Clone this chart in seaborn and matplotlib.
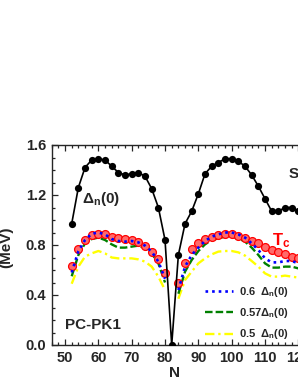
import matplotlib
matplotlib.use("Agg")
import numpy as np
import pandas as pd
import seaborn as sns
import matplotlib.pyplot as plt
from matplotlib.ticker import MultipleLocator
from matplotlib.lines import Line2D

# ---- data ----
N_all = [52, 54, 56, 58, 60, 62, 64, 66, 68, 70, 72, 74, 76, 78, 80, 82,
         84, 86, 88, 90, 92, 94, 96, 98, 100, 102, 104, 106, 108, 110,
         112, 114, 116, 118, 120]
delta0 = [0.97, 1.26, 1.42, 1.48, 1.49, 1.48, 1.43, 1.38, 1.36, 1.37, 1.38,
          1.35, 1.25, 1.10, 0.84, 0.00,
          0.72, 0.97, 1.07, 1.21, 1.37, 1.43, 1.46, 1.49, 1.49, 1.47, 1.43,
          1.36, 1.27, 1.17, 1.07, 1.07, 1.10, 1.10, 1.07]

N_tc = [52, 54, 56, 58, 60, 62, 64, 66, 68, 70, 72, 74, 76, 78, 80,
        84, 86, 88, 90, 92, 94, 96, 98, 100, 102, 104, 106, 108, 110,
        112, 114, 116, 118, 120]
tc = [0.63, 0.77, 0.84, 0.88, 0.89, 0.885, 0.867, 0.853, 0.848, 0.84, 0.827,
      0.795, 0.747, 0.69, 0.573,
      0.50, 0.66, 0.765, 0.813, 0.848, 0.867, 0.88, 0.888, 0.885, 0.875,
      0.859, 0.835, 0.82, 0.785, 0.762, 0.745, 0.725, 0.707, 0.693]
tc_06 = [0.58, 0.75, 0.84, 0.89, 0.90, 0.885, 0.848, 0.832, 0.827, 0.832,
         0.821, 0.795, 0.747, 0.667, 0.53,
         0.44, 0.627, 0.72, 0.779, 0.832, 0.867, 0.885, 0.90, 0.90, 0.885,
         0.859, 0.813, 0.76, 0.693, 0.661, 0.661, 0.672, 0.672, 0.653]
tc_057 = [0.55, 0.72, 0.813, 0.848, 0.859, 0.84, 0.805, 0.779, 0.779, 0.787,
          0.795, 0.773, 0.733, 0.653, 0.50,
          0.41, 0.587, 0.68, 0.752, 0.805, 0.84, 0.853, 0.867, 0.867, 0.853,
          0.827, 0.779, 0.72, 0.653, 0.619, 0.619, 0.627, 0.627, 0.613]
tc_05 = [0.49, 0.627, 0.707, 0.733, 0.752, 0.733, 0.70, 0.693, 0.693, 0.693,
         0.685, 0.667, 0.627, 0.547, 0.44,
         0.37, 0.52, 0.587, 0.653, 0.693, 0.725, 0.747, 0.752, 0.752, 0.741,
         0.715, 0.672, 0.627, 0.573, 0.547, 0.547, 0.555, 0.547, 0.539]

x_ticks = [50, 60, 70, 80, 90, 100, 110, 120]
y_ticks = [0.0, 0.4, 0.8, 1.2, 1.6]
legend_labels = ["0.6  \u0394$_n$(0)", "0.57\u0394$_n$(0)", "0.5  \u0394$_n$(0)"]

# ---- style ----
sns.set_style("ticks")
plt.rcParams["font.family"] = ["Liberation Sans", "DejaVu Sans"]
plt.rcParams["font.weight"] = "bold"
plt.rcParams["mathtext.fontset"] = "custom"
plt.rcParams["mathtext.rm"] = "Liberation Sans:bold"
plt.rcParams["mathtext.it"] = "Liberation Sans:bold"
plt.rcParams["mathtext.bf"] = "Liberation Sans:bold"
plt.rcParams["mathtext.default"] = "bf"

W, H = 298, 385
fig = plt.figure(figsize=(W / 100, H / 100), dpi=100)
ax = fig.add_axes([51.7 / W, 40 / H, 250 / W, 200 / H])

df_tc = pd.DataFrame({
    "N": N_tc, "tc": tc, "b": tc_06, "g": tc_057, "y": tc_05,
    "branch": ["L" if n < 82 else "R" for n in N_tc],
})
df_d = pd.DataFrame({"N": N_all, "d": delta0})

yellow_ls = (0, (4, 1.6, 1, 1.6))
green_ls = (0, (3.2, 1.3))
blue_ls = (0, (1, 1.5))

sns.lineplot(data=df_tc, x="N", y="y", units="branch", estimator=None,
             color="#ffff00", lw=1.7, linestyle=yellow_ls, ax=ax, zorder=2)
sns.lineplot(data=df_tc, x="N", y="g", units="branch", estimator=None,
             color="#008000", lw=1.7, linestyle=green_ls, ax=ax, zorder=3)
sns.scatterplot(data=df_tc, x="N", y="tc", s=32, color="#ff6a6a",
                edgecolor="#ff0000", linewidth=0.9, ax=ax, zorder=4)
sns.lineplot(data=df_tc, x="N", y="b", units="branch", estimator=None,
             color="#0000ff", lw=1.9, linestyle=blue_ls, ax=ax, zorder=5)
sns.lineplot(data=df_d, x="N", y="d", color="black", lw=1.2, marker="o",
             markersize=5.2, markeredgewidth=0, ax=ax, zorder=6)

ax.set_xlim(46, 121)
ax.set_ylim(0, 1.6)
ax.set_xticks(x_ticks)
ax.set_yticks(y_ticks)
ax.set_yticklabels([f"{v:.1f}" for v in y_ticks])
ax.xaxis.set_minor_locator(MultipleLocator(2))
ax.yaxis.set_minor_locator(MultipleLocator(0.1))
ax.tick_params(which="both", direction="in", top=True, right=False,
               width=0.9, labelsize=10.5, pad=4)
ax.tick_params(which="major", length=4)
ax.tick_params(which="minor", length=2.2)
for lab in ax.get_xticklabels() + ax.get_yticklabels():
    lab.set_fontweight("bold")
for sp in ax.spines.values():
    sp.set_linewidth(1.0)
ax.spines["right"].set_visible(False)

ax.set_xlabel("N", fontsize=11, fontweight="bold")
ax.set_ylabel("(MeV)", fontsize=11, fontweight="bold")
ax.xaxis.set_label_coords(0.493, -0.105)
ax.yaxis.set_label_coords(-0.155, 0.49)

ax.text(55.1, 1.14, "\u0394$_n$(0)", fontsize=11, fontweight="bold")
ax.text(112.0, 0.80, "T$_c$", fontsize=12, fontweight="bold", color="#ff0000")
ax.text(117.2, 1.34, "S", fontsize=11, fontweight="bold")
ax.text(50.0, 0.13, "PC-PK1", fontsize=11, fontweight="bold")

handles = [
    Line2D([], [], color="#0000ff", lw=1.9, linestyle=blue_ls),
    Line2D([], [], color="#008000", lw=1.7, linestyle=green_ls),
    Line2D([], [], color="#ffff00", lw=1.7, linestyle=yellow_ls),
]
leg = ax.legend(handles, legend_labels, loc="upper left",
                bbox_to_anchor=(205 / W, 1 - 285 / H),
                bbox_transform=fig.transFigure, frameon=False,
                prop={"size": 8, "weight": "bold"}, handlelength=2.5,
                handletextpad=0.6, labelspacing=0.65, borderpad=0,
                borderaxespad=0)
leg.set_zorder(10)

fig.savefig("out.png", dpi=100)
